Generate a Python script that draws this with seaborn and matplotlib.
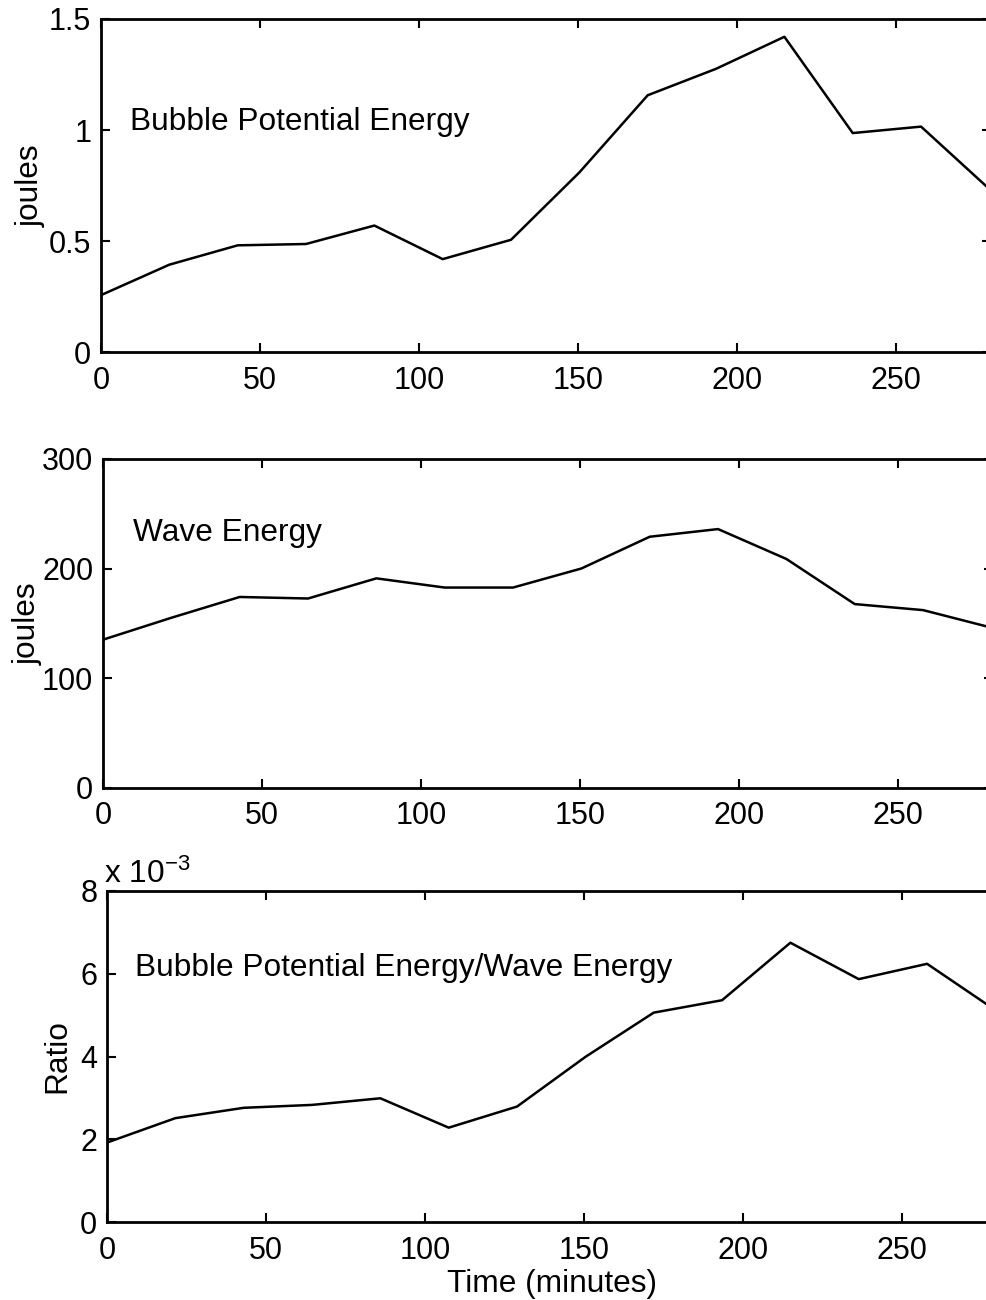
import matplotlib
matplotlib.use("Agg")
import matplotlib.pyplot as plt
from matplotlib.ticker import FuncFormatter, MultipleLocator
import seaborn as sns

# Sample times (minutes) and the three measured series
minutes = [0, 21.5, 43, 64.5, 86, 107.5, 129, 150.5, 172, 193.5, 215, 236.5, 258, 279.5]
bubble_pe = [0.258, 0.395, 0.482, 0.488, 0.571, 0.420, 0.507, 0.810,
             1.157, 1.276, 1.420, 0.987, 1.016, 0.735]
wave_energy = [135, 155, 174, 172.6, 191, 182.6, 182.6, 200,
               229, 236, 208.7, 167.5, 162, 146]
pe_wave_ratio = [1.92e-3, 2.51e-3, 2.76e-3, 2.83e-3, 2.99e-3, 2.28e-3, 2.79e-3, 3.99e-3,
                 5.06e-3, 5.36e-3, 6.75e-3, 5.87e-3, 6.24e-3, 5.12e-3]

panel_titles = ["Bubble Potential Energy", "Wave Energy",
                "Bubble Potential Energy/Wave Energy"]
y_labels = ["joules", "joules", "Ratio"]
x_label = "Time (minutes)"

TEXT_SIZE = 22.8
TICK_SIZE = 22

sns.set_theme(style="ticks")
plt.rcParams.update({
    "font.family": ["Liberation Sans", "DejaVu Sans"],
    "font.size": TEXT_SIZE,
    "mathtext.fontset": "custom",
    "mathtext.rm": "Liberation Sans",
    "mathtext.it": "Liberation Sans:italic",
    "axes.linewidth": 2.0,
    "axes.edgecolor": "black",
    "text.color": "black",
    "axes.labelcolor": "black",
    "xtick.color": "black",
    "ytick.color": "black",
})

W, H = 986, 1300
fig = plt.figure(figsize=(W / 100, H / 100), dpi=100)
fig.patch.set_facecolor("white")


def panel(left, top, bottom):
    return fig.add_axes([left / W, 1 - bottom / H, 890 / W, (bottom - top) / H])


ax1 = panel(101, 19, 352.5)
ax2 = panel(103, 459, 787.5)
ax3 = panel(107, 891, 1222)
axes = [ax1, ax2, ax3]
series = [bubble_pe, wave_energy, pe_wave_ratio]

for ax, vals in zip(axes, series):
    sns.lineplot(x=minutes, y=vals, ax=ax, color="black", linewidth=1.8)
    ax.set_xlim(0, 280)
    ax.xaxis.set_major_locator(MultipleLocator(50))
    ax.tick_params(which="both", direction="in", top=True, right=True,
                   length=6.5, width=1.5, labelsize=TICK_SIZE)
    ax.tick_params(axis="x", pad=10)
    ax.tick_params(axis="y", pad=7)
    for s in ax.spines.values():
        s.set_visible(True)
        s.set_linewidth(2.0)
    ax.set_facecolor("white")

fmt_g = FuncFormatter(lambda v, _: f"{v:g}")

ax1.set_ylim(0, 1.5)
ax1.yaxis.set_major_locator(MultipleLocator(0.5))
ax1.yaxis.set_major_formatter(fmt_g)
ax1.text(9, 1.0, panel_titles[0], fontsize=TEXT_SIZE, va="baseline")

ax2.set_ylim(0, 300)
ax2.yaxis.set_major_locator(MultipleLocator(100))
ax2.yaxis.set_major_formatter(fmt_g)
ax2.text(9.4, 225, panel_titles[1], fontsize=TEXT_SIZE, va="baseline")

ax3.set_ylim(0, 0.008)
ax3.yaxis.set_major_locator(MultipleLocator(0.002))
ax3.yaxis.set_major_formatter(FuncFormatter(lambda v, _: f"{v * 1e3:g}"))
ax3.text(8.8, 5.94e-3, panel_titles[2], fontsize=TEXT_SIZE, va="baseline")
ax3.text(-0.003, 1 + 8 / 330, r"x 10$^{-3}$", transform=ax3.transAxes,
         fontsize=TEXT_SIZE, va="baseline", ha="left")

for ax in axes:
    ax.set_xlabel("")
ax1.set_ylabel(y_labels[0], va="center", fontsize=TEXT_SIZE)
ax2.set_ylabel(y_labels[1], va="center", fontsize=TEXT_SIZE)
ax3.set_ylabel(y_labels[2], va="center", fontsize=TEXT_SIZE)
ax1.yaxis.set_label_coords(-0.079, 0.5)
ax2.yaxis.set_label_coords(-0.085, 0.5)
ax3.yaxis.set_label_coords(-0.0562, 0.5)

ax3.set_xlabel(x_label, va="top", fontsize=TEXT_SIZE)
ax3.xaxis.set_label_coords(0.5, -0.142)

fig.savefig("out.png", dpi=100, facecolor="white")
